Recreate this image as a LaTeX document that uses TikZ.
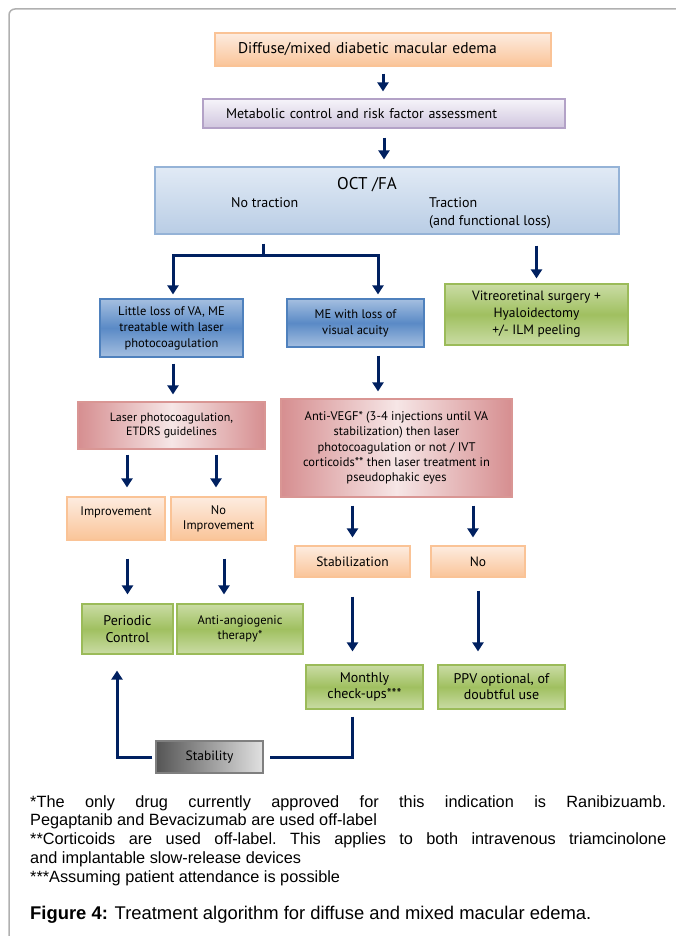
\documentclass[tikz,border=0pt]{standalone}
\usepackage{fontspec}
\setmainfont{PT Sans}
\newfontfamily\notefont{Liberation Sans}
\usetikzlibrary{arrows.meta}

\definecolor{navy}{RGB}{0,32,96}
\definecolor{framegray}{RGB}{176,176,176}
\definecolor{orangeline}{RGB}{250,195,150}
\definecolor{orangedark}{RGB}{250,196,152}
\definecolor{orangelight}{RGB}{253,236,224}
\definecolor{lilacline}{RGB}{179,162,199}
\definecolor{lilacdark}{RGB}{208,198,222}
\definecolor{lilaclight}{RGB}{246,244,250}
\definecolor{skyline}{RGB}{149,179,215}
\definecolor{skydark}{RGB}{185,205,229}
\definecolor{skylight}{RGB}{225,234,245}
\definecolor{blueline}{RGB}{79,129,189}
\definecolor{bluemid}{RGB}{90,138,198}
\definecolor{blueedge}{RGB}{165,191,224}
\definecolor{greenline}{RGB}{155,187,89}
\definecolor{greenmid}{RGB}{160,192,96}
\definecolor{greenedge}{RGB}{202,220,165}
\definecolor{redline}{RGB}{217,150,148}
\definecolor{reddark}{RGB}{214,142,144}
\definecolor{redlight}{RGB}{246,230,230}
\definecolor{grayline}{RGB}{127,127,127}
\definecolor{graydark}{RGB}{85,85,85}
\definecolor{graylight}{RGB}{225,225,225}

\newcommand{\fs}[2]{\fontsize{#1}{#2}\selectfont}
\newcommand{\notestyle}{\notefont\fs{16.3}{18.8}\frenchspacing\hyphenpenalty 10000\relax}

\begin{document}
\begin{tikzpicture}[x=1pt,y=-1pt,
        every node/.style = {align=center, inner sep=2pt, text=black},
        box/.style = {draw, line width=1.2pt},
        orangebox/.style = {box, draw=orangeline, top color=orangelight, bottom color=orangedark},
        lilacbox/.style = {box, draw=lilacline, top color=lilaclight, bottom color=lilacdark},
        skybox/.style = {box, draw=skyline, top color=skylight, bottom color=skydark},
        bluebox/.style = {box, draw=blueline, top color=blueedge, bottom color=blueedge, middle color=bluemid},
        greenbox/.style = {box, draw=greenline, top color=greenedge, bottom color=greenedge, middle color=greenmid},
        redbox/.style = {box, draw=redline, shading angle=45, left color=reddark, right color=reddark, middle color=redlight},
        graybox/.style = {box, draw=grayline, shading angle=45, left color=graydark, right color=graylight},
        arr/.style = {draw=navy, line width=3pt, -{Triangle[width=11pt,length=9pt]}},
        conn/.style = {draw=navy, line width=3pt}
        ]
    \useasboundingbox (0,0) rectangle (676,936);
    \draw[framegray, line width=1.5pt, rounded corners=6pt] (9,945) -- (9,9) -- (690,9); %frame

    % top of the tree
    \node (diffuse) at (383,49.5) [orangebox, minimum width=336pt, minimum height=33pt, inner xsep=23pt,
        text width=290pt, align=left, font=\fs{15.5}{17}] {Diffuse/mixed diabetic macular edema};
    \node (metab) at (384,113.5) [lilacbox, minimum width=362pt, minimum height=29pt, inner xsep=23pt,
        text width=316pt, align=left, font=\fs{14}{15}] {Metabolic control and risk factor assessment};
    \node (octfa) at (387,200.5) [skybox, minimum width=464pt, minimum height=67pt] {};
    \node (octtitle) at (367,185) [font=\fs{17}{19}] {OCT /FA};
    \node (notract) at (229,203) [anchor=west, font=\fs{14}{18}] {No traction};
    \node (tract) at (427,203) [anchor=north west, yshift=8pt, align=left, font=\fs{14}{18}] {Traction\\(and functional loss)};

    % second row
    \node (little) at (171.5,328) [bluebox, minimum width=143pt, minimum height=58pt, font=\fs{12.5}{16}]
        {Little loss of VA, ME\\treatable with laser\\photocoagulation};
    \node (melos) at (355.5,323) [bluebox, minimum width=137pt, minimum height=48pt, font=\fs{12.5}{16}]
        {ME with loss of\\visual acuity};
    \node (vitreo) at (536.5,314.5) [greenbox, minimum width=183pt, minimum height=61pt, font=\fs{13.5}{17}]
        {Vitreoretinal surgery +\\Hyaloidectomy\\+/- ILM peeling};

    % treatments
    \node (laser) at (171.5,425.5) [redbox, minimum width=187pt, minimum height=47pt, font=\fs{12}{14.5}]
        {Laser photocoagulation,\\ETDRS guidelines};
    \node (antivegf) at (396.5,448) [redbox, minimum width=231pt, minimum height=98pt, font=\fs{12.5}{15.2}]
        {Anti-VEGF* (3-4 injections until VA\\stabilization) then laser\\photocoagulation or not / IVT\\corticoids** then laser treatment in\\pseudophakic eyes};

    % outcomes
    \node (improv) at (116,518.5) [orangebox, minimum width=98pt, minimum height=43pt, font=\fs{12.5}{15}]
        {Improvement\\~};
    \node (noimprov) at (218.5,518.5) [orangebox, minimum width=95pt, minimum height=43pt, font=\fs{12.5}{15}]
        {No\\Improvement};
    \node (stabil) at (352.5,561.5) [orangebox, minimum width=115pt, minimum height=31pt, font=\fs{13.5}{15}]
        {Stabilization};
    \node (no) at (478,561.5) [orangebox, minimum width=94pt, minimum height=31pt, font=\fs{13.5}{15}]
        {No};

    % follow up
    \node (periodic) at (127.5,629) [greenbox, minimum width=91pt, minimum height=50pt, font=\fs{14}{17}]
        {Periodic\\Control};
    \node (antiang) at (240,629) [greenbox, minimum width=126pt, minimum height=50pt, font=\fs{12.5}{15}]
        {Anti-angiogenic\\therapy*};
    \node (monthly) at (364.5,687) [greenbox, minimum width=117pt, minimum height=44pt, font=\fs{14}{16}]
        {Monthly\\check-ups***};
    \node (ppv) at (501.5,687) [greenbox, minimum width=127pt, minimum height=44pt, font=\fs{14}{16}]
        {PPV optional, of\\doubtful use};
    \node (stability) at (209.5,757) [graybox, minimum width=107pt, minimum height=32pt, font=\fs{13.5}{15}]
        {Stability};

    % arrows
    \coordinate (split) at (263,255);
    \draw[arr, shorten <=7pt, shorten >=7pt] (diffuse.south) -- (diffuse.south |- metab.north);
    \draw[arr, shorten <=9pt, shorten >=7pt] (metab.south) -- (metab.south |- octfa.north);
    \draw[conn, shorten <=9pt] (split |- octfa.south) -- (split);
    \draw[arr] (split) -| ([xshift=1.5pt,yshift=4pt]little.north);
    \draw[arr] (split) -| ([xshift=22.5pt,yshift=4pt]melos.north);
    \draw[arr, shorten <=11pt, shorten >=5pt] (vitreo.north |- octfa.south) -- (vitreo.north);
    \draw[arr, shorten <=6pt, shorten >=7pt] ([xshift=1.5pt]little.south) -- ([xshift=1.5pt]little.south |- laser.north);
    \draw[arr, shorten <=8pt, shorten >=7pt] ([xshift=22.5pt]melos.south) -- ([xshift=22.5pt]melos.south |- antivegf.north);
    \draw[arr, shorten <=5pt, shorten >=9pt] ([xshift=11pt]improv.north |- laser.south) -- ([xshift=11pt]improv.north);
    \draw[arr, shorten <=5pt, shorten >=9pt] ([xshift=-2.5pt]noimprov.north |- laser.south) -- ([xshift=-2.5pt]noimprov.north);
    \draw[arr, shorten <=8pt, shorten >=8pt] (stabil.north |- antivegf.south) -- (stabil.north);
    \draw[arr, shorten <=8pt, shorten >=8pt] ([xshift=-5pt]no.north |- antivegf.south) -- ([xshift=-5pt]no.north);
    \draw[arr, shorten <=18pt, shorten >=9pt] (periodic.north |- improv.south) -- (periodic.north);
    \draw[arr, shorten <=18pt, shorten >=9pt] ([xshift=-16pt]antiang.north |- noimprov.south) -- ([xshift=-16pt]antiang.north);
    \draw[arr, shorten <=19pt, shorten >=13pt] (stabil.south) -- (stabil.south |- monthly.north);
    \draw[arr, shorten <=13pt, shorten >=13pt] (no.south) -- (no.south |- ppv.north);
    \draw[conn] ([yshift=-7pt]stabil.south |- monthly.south) |- ([xshift=6pt]stability.east);
    \draw[arr] ([xshift=-3pt]stability.west) -| ([xshift=-10.5pt,yshift=-16pt]periodic.south);

    % notes
    \node (notes) at (30,795) [anchor=north west, inner sep=0pt, text width=636pt, align=justify, font=\notestyle]
        {*The only drug currently approved for this indication is Ranibizuamb.\linebreak
        Pegaptanib and Bevacizumab are used off-label\\{}**Corticoids are used off-label. This applies to both intravenous triamcinolone\linebreak
        and implantable slow-release devices\\{}***Assuming patient attendance is possible};
    \node (caption) at (30,915) [anchor=west, inner sep=0pt, font=\notefont\fs{18.4}{20}]
        {\textbf{Figure 4:} Treatment algorithm for diffuse and mixed macular edema.};
\end{tikzpicture}
\end{document}
